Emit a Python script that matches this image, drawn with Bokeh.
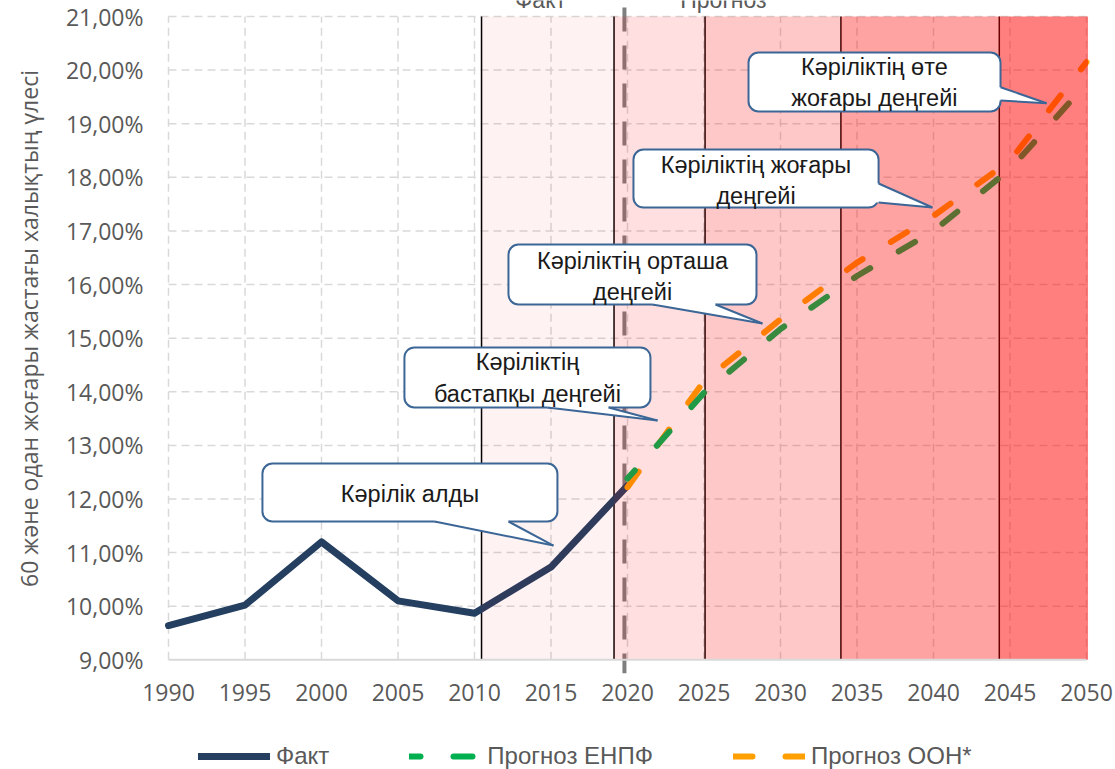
import math
from bokeh.plotting import figure
from bokeh.models import Range1d, Legend, LegendItem
from bokeh.core.properties import value
from bokeh.embed import file_html
from bokeh.resources import INLINE

# ---------------- data ----------------
fact_years = [1990, 1995, 2000, 2005, 2010, 2015, 2020]
fact_values = [9.64, 10.02, 11.20, 10.10, 9.87, 10.73, 12.25]

forecast_years = [2020, 2025, 2030, 2035, 2040, 2045, 2050]
enpf_values = [12.38, 13.98, 15.17, 16.16, 17.00, 18.15, 19.75]
un_values = [12.22, 14.20, 15.35, 16.41, 17.28, 18.31, 20.15]

x_ticks = [1990, 1995, 2000, 2005, 2010, 2015, 2020, 2025, 2030, 2035, 2040, 2045, 2050]
x_tick_labels = ["1990", "1995", "2000", "2005", "2010", "2015", "2020",
                 "2025", "2030", "2035", "2040", "2045", "2050"]
y_ticks = [9, 10, 11, 12, 13, 14, 15, 16, 17, 18, 19, 20, 21]
y_tick_labels = ["9,00%", "10,00%", "11,00%", "12,00%", "13,00%", "14,00%", "15,00%",
                 "16,00%", "17,00%", "18,00%", "19,00%", "20,00%", "21,00%"]

# ageing-level bands (year bounds)
band_left = [2010.46, 2019.12, 2025.07, 2033.95, 2044.30]
band_right = [2019.12, 2025.07, 2033.95, 2044.30, 2050.10]
split_year = 2019.8

series_names = ["Факт", "Прогноз ЕНПФ", "Прогноз ООН*"]
period_labels = ["Факт", "Прогноз"]
y_title = "60 және одан жоғары жастағы халықтың үлесі"

callout_texts = [
    "Кәрілік алды",
    "Кәріліктің\nбастапқы деңгейі",
    "Кәріліктің орташа\nдеңгейі",
    "Кәріліктің жоғары\nдеңгейі",
    "Кәріліктің өте\nжоғары деңгейі",
]

# ---------------- layout / style ----------------
PX_PER_YEAR = 15.3
PX_PER_PCT = 53.61
W, H = 1115, 769
LEFT = 168                       # px from canvas left to year 1990
Y_TOP = 21 + 16 / PX_PER_PCT     # value at the canvas top

NAVY = "#243F60"
GREEN = "#00B050"
ORANGE = "#FFA000"
GRID = "#D9D9D9"
TXT = "#595959"
BOX = "#3B6696"
band_alpha = [0.05, 0.125, 0.215, 0.365, 0.5]

# callout geometry: box (l, r, t, b), pointer side, base, tip, text pos
callouts = [
    dict(box=(1996.14, 2015.42, 12.662, 11.58), side="bottom", base=(2007.39, 2012.22),
         tip=(2015.16, 11.132), pos=(2005.78, 12.10)),
    dict(box=(2005.42, 2021.50, 14.826, 13.707), side="bottom", base=(2014.77, 2018.76),
         tip=(2021.96, 13.464), pos=(2013.46, 14.257)),
    dict(box=(2012.22, 2028.43, 16.747, 15.628), side="bottom", base=(2021.63, 2025.75),
         tip=(2028.82, 15.273), pos=(2020.33, 16.154)),
    dict(box=(2020.39, 2036.41, 18.519, 17.437), side="right", base=(17.885, 17.53),
         tip=(2039.93, 17.437), pos=(2028.40, 17.935)),
    dict(box=(2027.91, 2044.38, 20.328, 19.228), side="right", base=(19.681, 19.433),
         tip=(2047.39, 19.383), pos=(2036.14, 19.763)),
]
period_label_x = [2014.31, 2026.27]

x0 = 1990 - LEFT / PX_PER_YEAR
p = figure(width=W, height=H,
           x_range=Range1d(x0, x0 + W / PX_PER_YEAR),
           y_range=Range1d(Y_TOP - H / PX_PER_PCT, Y_TOP),
           output_backend="svg", toolbar_location=None,
           x_axis_location=None, y_axis_location=None, min_border=0)
p.outline_line_color = None
p.grid.visible = False
p.background_fill_color = "white"

# grid
p.segment(x0=1990, x1=2050, y0=y_ticks[1:], y1=y_ticks[1:], line_color=GRID,
          line_width=1.5, line_dash="8 5")
p.segment(x0=x_ticks, x1=x_ticks, y0=9, y1=21, line_color=GRID,
          line_width=1.5, line_dash="8 5")

# split line fact / forecast
p.segment(x0=[split_year], x1=[split_year], y0=[21 + 9 / PX_PER_PCT], y1=[8.75],
          line_color="#7F7F7F", line_width=4, line_dash="24 14")

# period labels (cut by the top edge, as in the source)
p.text(x=period_label_x, y=[Y_TOP + 1 / PX_PER_PCT] * 2, text=period_labels,
       text_align="center", text_baseline="alphabetic", text_font=value("Liberation Sans"),
       text_font_size="23px", text_color=TXT)

# band edges
p.segment(x0=band_left, x1=band_left, y0=9, y1=21, line_color="black", line_width=1.5)

# series
r_fact = p.line(fact_years, fact_values, line_color=NAVY, line_width=7,
                line_join="round", line_cap="round")
r_un = p.line(forecast_years, un_values, line_color=ORANGE, line_width=6,
              line_dash="19 33", line_cap="round", line_join="round")
r_enpf = p.line(forecast_years, enpf_values, line_color=GREEN, line_width=6,
                line_dash="19 33", line_dash_offset=8, line_cap="round", line_join="round")

# band overlays (semi-transparent red, on top of the lines)
p.quad(left=band_left, right=band_right, bottom=9, top=21, fill_color="#FF0000",
       fill_alpha=band_alpha, line_color=None)

# x axis line
p.segment(x0=[1990], x1=[2050], y0=[9], y1=[9], line_color=GRID, line_width=2)

# callouts
ey = 3 / PX_PER_PCT
ex = 3 / PX_PER_YEAR
for c, txt in zip(callouts, callout_texts):
    l, r, t, b = c["box"]
    p.quad(left=[l], right=[r], top=[t], bottom=[b], fill_color="white",
           line_color=BOX, line_width=2, border_radius=10)
    tx, ty = c["tip"]
    a1, a2 = c["base"]
    if c["side"] == "bottom":
        xs = [a1, a1, tx, a2, a2]
        ys = [b + ey, b, ty, b, b + ey]
        e1 = ([a1, tx], [b, ty])
        e2 = ([a2, tx], [b, ty])
    else:
        xs = [r - ex, r, tx, r, r - ex]
        ys = [a1, a1, ty, a2, a2]
        e1 = ([r, tx], [a1, ty])
        e2 = ([r, tx], [a2, ty])
    p.patch(xs, ys, fill_color="white", line_color=None)
    p.multi_line([e1[0], e2[0]], [e1[1], e2[1]], line_color=BOX, line_width=2)
    p.text(x=[c["pos"][0]], y=[c["pos"][1]], text=[txt], text_align="center",
           text_baseline="middle", text_font=value("Liberation Sans"),
           text_font_size="23.5px", text_color="#1A1A1A", text_line_height=1.2)

# x tick labels
p.text(x=x_ticks, y=[9 - 33 / PX_PER_PCT] * len(x_ticks), text=x_tick_labels,
       text_align="center", text_baseline="middle", text_font=value("Open Sans"),
       text_font_size="23px", text_color=TXT)

# y tick labels
p.text(x=[1990 - 25 / PX_PER_YEAR] * len(y_ticks), y=y_ticks, text=y_tick_labels,
       text_align="right", text_baseline="middle", text_font=value("Open Sans"),
       text_font_size="23px", text_color=TXT)

# y axis title
p.text(x=[1990 - 140 / PX_PER_YEAR], y=[21 - 312 / PX_PER_PCT], text=[y_title],
       angle=math.pi / 2, text_align="center", text_baseline="middle",
       text_font=value("Open Sans"), text_font_size="23px", text_color=TXT)

legend = Legend(items=[LegendItem(label=series_names[0], renderers=[r_fact]),
                       LegendItem(label=series_names[1], renderers=[r_enpf]),
                       LegendItem(label=series_names[2], renderers=[r_un])],
                orientation="horizontal", location=(198, -1), spacing=80,
                glyph_width=72, glyph_height=20, label_standoff=6, padding=0, margin=0,
                border_line_color=None, background_fill_alpha=0,
                label_text_font="Liberation Sans", label_text_font_size="24px",
                label_text_color=TXT)
p.add_layout(legend)

open("out.html", "w").write(file_html(p, INLINE))
